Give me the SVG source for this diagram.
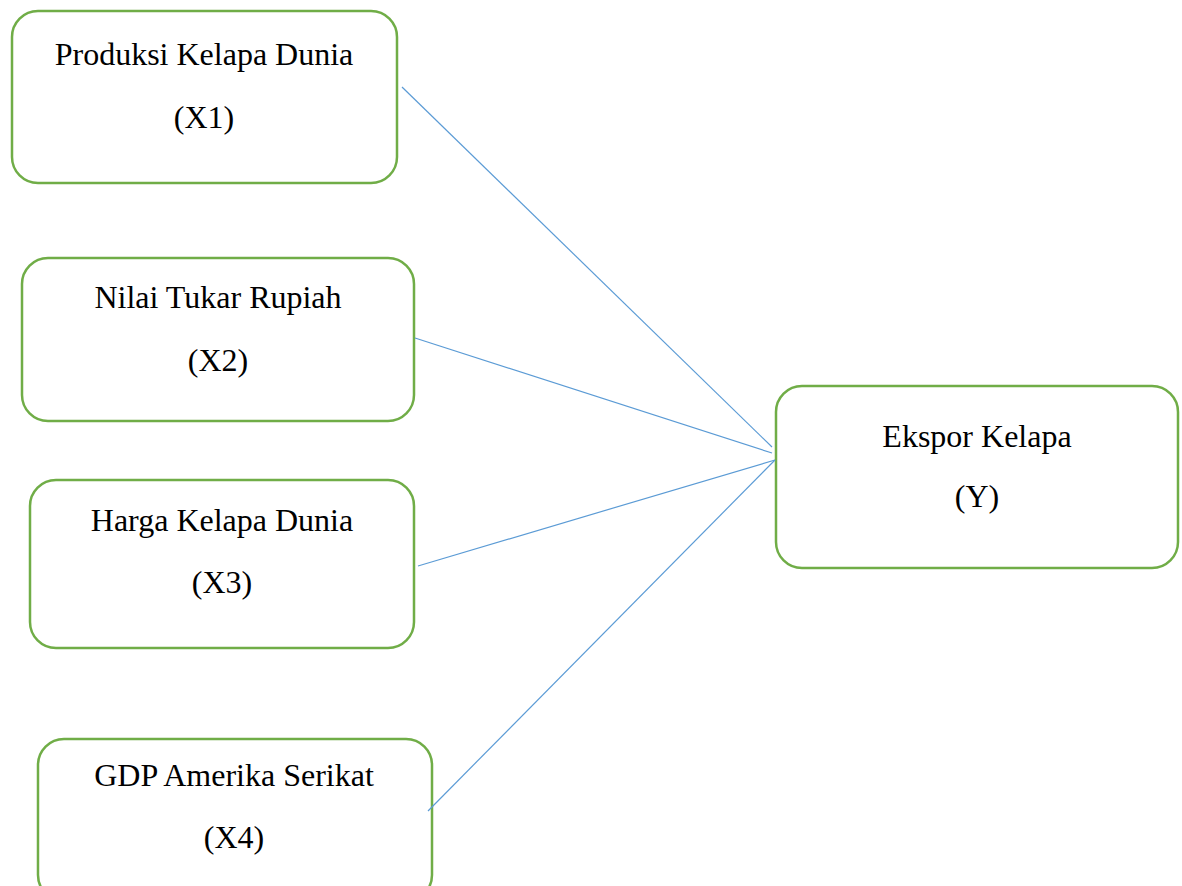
<svg xmlns="http://www.w3.org/2000/svg" width="1182" height="886" viewBox="0 0 1182 886">
<style>
.box{fill:#fff;stroke:#70AD47;stroke-width:2.5}
.lbl{font-family:"Liberation Serif","Times New Roman",serif;font-size:32px;fill:#000;text-anchor:middle}
.conn{stroke:#5B9BD5;stroke-width:1.2;fill:none}
</style>
<rect width="1182" height="886" fill="#fff"/>
<g id="x1">
<rect class="box" x="12" y="11" width="385" height="172" rx="26"/>
<text class="lbl" x="204" y="65">Produksi Kelapa Dunia</text>
<text class="lbl" x="204" y="128">(X1)</text>
</g>
<g id="x2">
<rect class="box" x="22" y="258" width="392" height="163" rx="26"/>
<text class="lbl" x="218" y="308">Nilai Tukar Rupiah</text>
<text class="lbl" x="218" y="371">(X2)</text>
</g>
<g id="x3">
<rect class="box" x="30" y="480" width="384" height="168" rx="26"/>
<text class="lbl" x="222" y="531">Harga Kelapa Dunia</text>
<text class="lbl" x="222" y="593">(X3)</text>
</g>
<g id="x4">
<rect class="box" x="38" y="739" width="394" height="162" rx="26"/>
<text class="lbl" x="234" y="786">GDP Amerika Serikat</text>
<text class="lbl" x="234" y="848">(X4)</text>
</g>
<g id="y">
<rect class="box" x="776" y="386" width="402" height="182" rx="26"/>
<text class="lbl" x="977" y="447">Ekspor Kelapa</text>
<text class="lbl" x="977" y="507">(Y)</text>
</g>
<g id="connectors">
<line class="conn" x1="402" y1="87" x2="772" y2="447"/>
<line class="conn" x1="415" y1="338" x2="772" y2="453"/>
<line class="conn" x1="418" y1="566" x2="775" y2="460"/>
<line class="conn" x1="428" y1="811" x2="775" y2="460"/>
</g>
</svg>
